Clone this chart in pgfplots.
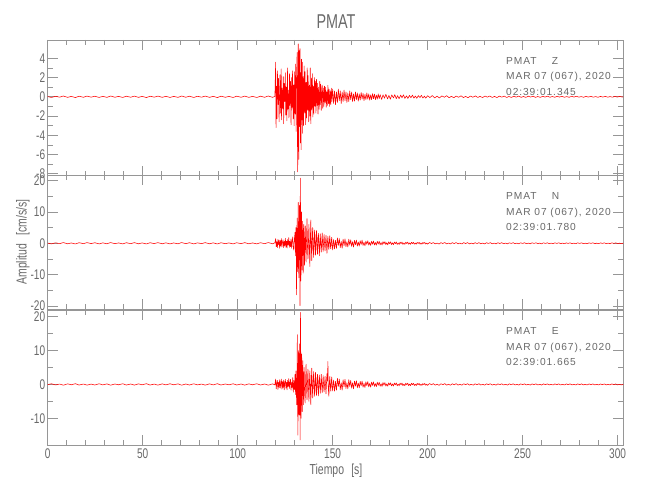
\documentclass[border=0pt]{standalone}
\usepackage{fontspec}
\setmainfont{Liberation Sans}
\newfontfamily\narrowfont[FakeStretch=0.72]{Liberation Sans}
\newfontfamily\annfont[LetterSpace=9]{Liberation Sans}
\usepackage{pgfplots}
\pgfplotsset{compat=1.18}
\definecolor{axgray}{RGB}{150,150,150}
\definecolor{txtgray}{RGB}{105,105,105}
\pgfplotsset{
 seis/.style={
  scale only axis, width=575.6pt, xmin=0, xmax=303,
  anchor=north west,
  axis line style={axgray, line width=0.6pt},
  every tick/.style={axgray, line width=0.6pt},
  major tick length=10pt, minor tick length=5pt,
  tick align=inside, xtick pos=both, ytick pos=both,
  xticklabel pos=lower, yticklabel pos=left,
  xtick={0,50,...,300}, minor x tick num=4, minor y tick num=1,
  ticklabel style={font=\narrowfont\fontsize{14}{14}\selectfont, text=txtgray},
  /pgf/number format/assume math mode=true,
  yticklabel style={xshift=1pt},
  clip=false,
 },
 trace/.style={red, line width=0.55pt, no markers, line join=round},
}
\begin{document}
\begin{tikzpicture}
\useasboundingbox (0pt,0pt) rectangle (650pt,-500pt);
% Panel Z
\begin{axis}[seis, at={(47.7pt,-40pt)}, height=135.7pt, ymin=-8.2, ymax=5.9,
  ytick={-8,-6,...,4}, xticklabels={}]
\addplot[trace] coordinates {
(0,0.02) (2,-0.07) (4.1,0.05) (6.3,-0.04) (8.2,0.08) (10.5,-0.06) (12.4,0.04) (14.6,-0.08) (16.5,0.06) (18.8,-0.05)
(20.7,0.07) (22.9,-0.04) (24.8,0.06) (27.1,-0.07) (29,0.05) (31.2,-0.06) (33.1,0.08) (35.4,-0.05) (37.3,0.04) (39.5,-0.07)
(41.4,0.06) (43.7,-0.05) (45.6,0.07) (47.8,-0.06) (49.7,0.04) (52,-0.08) (53.9,0.06) (56.1,-0.04) (58,0.07) (60.3,-0.06)
(62.2,0.05) (64.4,-0.07) (66.3,0.04) (68.6,-0.06) (70.5,0.08) (72.7,-0.05) (74.6,0.06) (76.9,-0.07) (78.8,0.05) (81,-0.04)
(82.9,0.07) (85.2,-0.06) (87.1,0.05) (89.3,-0.08) (91.2,0.06) (93.5,-0.05) (95.4,0.04) (97.6,-0.07) (99.5,0.06) (101.8,-0.05)
(103.7,0.07) (105.9,-0.06) (107.8,0.04) (110.1,-0.07) (112,0.06) (114.2,-0.05) (116.1,0.08) (118.4,-0.06) (119.6,0.05)
(120.0,3.6) (120.2,-3.2) (120.5,1.1) (120.7,-2.3) (121.0,2.7) (121.3,-0.8) (121.5,1.9) (121.8,-2.6) (122.1,0.6) (122.3,2.3)
(122.6,-1.7) (122.9,2.9) (123.1,-2.4) (123.4,0.9) (123.7,-1.2) (124.0,2.1) (124.2,-2.8) (124.5,1.4) (124.8,-0.5) (125.1,2.5)
(125.3,-1.9) (125.6,1.0) (125.9,-2.5) (126.2,3.0) (126.4,-1.3) (126.7,0.7) (127.0,-2.2) (127.3,2.4) (127.5,-0.9) (127.8,1.6)
(128.1,-2.9) (128.4,2.0) (128.6,-1.1) (128.9,2.7) (129.2,-2.3) (129.5,1.2) (129.7,-3.0) (130.0,2.6) (130.3,-1.8) (130.5,3.4)
(130.8,-3.6) (131.0,2.2) (131.3,4.6) (131.5,-5.0) (131.6,-7.8) (131.8,3.5) (131.9,5.5) (132.1,-4.2) (132.2,-6.5) (132.4,4.8)
(132.6,-3.1) (132.8,5.0) (133.0,-4.8) (133.2,2.5) (133.4,-5.5) (133.6,3.9) (133.8,-2.4) (134.0,3.6) (134.2,-3.8) (134.5,2.1)
(134.7,-3.0) (135.0,3.2) (135.3,-1.7) (135.5,2.6) (135.8,-2.9) (136.1,1.5) (136.3,-2.2) (136.6,3.0) (136.9,-1.4) (137.1,2.2)
(137.4,-2.6) (137.7,1.2) (138.0,-2.0) (138.2,3.0) (138.5,-2.8) (138.8,1.9) (139.0,-1.3) (139.3,2.4) (139.6,-2.1) (139.9,1.1)
(140.1,-1.8) (140.4,2.0) (140.7,-1.0) (141.0,1.6) (141.2,-1.7) (141.5,1.8) (141.8,-0.9) (142.1,1.4) (142.3,-1.8) (142.6,1.0)
(142.9,-1.3) (143.2,1.6) (143.4,-0.8) (143.7,1.3) (144.0,-1.4) (144.3,0.7) (144.5,1.2) (144.8,-1.2) (145.1,0.9) (145.4,-1.0)
(145.7,1.1) (146.0,-0.6) (146.3,1.0) (146.6,-1.1) (146.9,0.5) (147.2,-0.9) (147.5,1.2) (147.8,-0.7) (148.1,0.8) (148.4,-1.0)
(148.7,0.6) (149.0,-0.8) (149.3,0.9) (149.6,-0.5) (150.0,0.8)
(150.5,-0.7) (151,0.6) (151.5,-0.8) (152,0.5) (152.5,-0.6) (153,0.8) (153.5,-0.4) (154,0.6) (154.5,-0.7) (155,0.5)
(155.5,-0.5) (156,0.7) (156.5,-0.4) (157,0.5) (157.5,-0.6) (158,0.4) (158.5,-0.5) (159,0.6) (159.5,-0.3) (160,0.5)
(160.5,-0.5) (161,0.3) (161.5,-0.45) (162,0.5) (162.5,-0.3) (163,0.4) (163.5,-0.45) (164,0.3) (164.5,-0.35) (165,0.45)
(165.5,-0.25) (166,0.35) (166.5,-0.4) (167,0.25) (167.5,-0.3) (168,0.4) (168.5,-0.25) (169,0.3) (169.5,-0.35) (170,0.2)
(170.5,-0.3) (171,0.32) (171.5,-0.2) (172,0.28) (172.5,-0.3) (173,0.18) (173.5,-0.25) (174,0.3) (174.5,-0.2) (175,0.22)
(175.8,-0.28) (176.5,0.2) (177.3,-0.15) (178,0.26) (178.9,-0.22) (179.6,0.14) (180.4,-0.25) (181.1,0.2) (182,-0.12) (182.7,0.22)
(183.5,-0.2) (184.2,0.12) (185,-0.2) (185.8,0.18) (186.5,-0.1) (187.3,0.2) (188,-0.17) (188.9,0.1) (189.6,-0.18) (190.4,0.15)
(191.2,-0.1) (192,0.17) (192.8,-0.14) (193.5,0.08) (194.3,-0.16) (195.1,0.12) (196,-0.08) (196.7,0.15) (197.5,-0.13) (198.3,0.07)
(199,-0.14) (200,0.11) (201.2,-0.08) (202.5,0.13) (203.7,-0.11) (205,0.06) (206.2,-0.12) (207.5,0.09) (208.8,-0.05) (210,0.11)
(211.3,-0.1) (212.5,0.05) (213.8,-0.1) (215,0.08) (216.3,-0.05) (217.6,0.1) (218.8,-0.08) (220,0.04) (221.3,-0.09) (222.6,0.08)
(223.8,-0.05) (225.1,0.09) (226.4,-0.07) (227.6,0.04) (228.9,-0.08) (230.2,0.08) (231.4,-0.04) (232.7,0.08) (234,-0.07) (235.2,0.04)
(236.5,-0.08) (237.8,0.07) (239,-0.04) (240.3,0.07) (241.6,-0.07) (242.8,0.03) (244.1,-0.07) (245.4,0.06) (246.6,-0.04) (247.9,0.07)
(249.2,-0.06) (250.4,0.03) (251.7,-0.06) (253,0.06) (254.2,-0.03) (255.5,0.06) (256.8,-0.06) (258,0.03) (259.3,-0.06) (260.6,0.05)
(261.8,-0.03) (263.1,0.06) (264.4,-0.05) (265.6,0.03) (266.9,-0.05) (268.2,0.05) (269.4,-0.03) (270.7,0.05) (272,-0.05) (273.2,0.02)
(274.5,-0.05) (275.8,0.05) (277,-0.03) (278.3,0.05) (279.6,-0.04) (280.8,0.02) (282.1,-0.05) (283.4,0.04) (284.6,-0.03) (285.9,0.05)
(287.2,-0.04) (288.4,0.02) (289.7,-0.05) (291,0.04) (292.2,-0.03) (293.5,0.04) (294.8,-0.04) (296,0.02) (297.3,-0.04) (298.6,0.04)
(299.8,-0.03) (301.1,0.04) (302.4,-0.03) (303,0.0)
};
\end{axis}
% Panel N
\begin{axis}[seis, at={(47.7pt,-175pt)}, height=134pt, ymin=-20.9, ymax=21.7,
  ytick={-20,-10,...,20}, xticklabels={}]
\addplot[trace] coordinates {
(0,0.05) (2,-0.2) (4.1,0.15) (6.3,-0.12) (8.2,0.22) (10.5,-0.17) (12.4,0.1) (14.6,-0.22) (16.5,0.18) (18.8,-0.12)
(20.7,0.2) (22.9,-0.1) (24.8,0.17) (27.1,-0.2) (29,0.13) (31.2,-0.17) (33.1,0.22) (35.4,-0.13) (37.3,0.11) (39.5,-0.2)
(41.4,0.17) (43.7,-0.13) (45.6,0.2) (47.8,-0.17) (49.7,0.11) (52,-0.22) (53.9,0.17) (56.1,-0.11) (58,0.2) (60.3,-0.17)
(62.2,0.13) (64.4,-0.2) (66.3,0.11) (68.6,-0.17) (70.5,0.22) (72.7,-0.13) (74.6,0.17) (76.9,-0.2) (78.8,0.13) (81,-0.11)
(82.9,0.2) (85.2,-0.17) (87.1,0.13) (89.3,-0.22) (91.2,0.17) (93.5,-0.13) (95.4,0.11) (97.6,-0.2) (99.5,0.17) (101.8,-0.13)
(103.7,0.2) (105.9,-0.17) (107.8,0.11) (110.1,-0.2) (112,0.17) (114.2,-0.13) (116.1,0.22) (118.4,-0.17) (119.6,0.15)
(120.0,1.5) (120.3,-1.1) (120.6,0.5) (120.9,-1.4) (121.2,1.2) (121.5,-0.4) (121.8,1.0) (122.1,-1.6) (122.4,0.8) (122.7,-0.9)
(123.0,1.5) (123.3,-1.2) (123.6,0.4) (123.9,1.1) (124.2,-1.4) (124.5,0.6) (124.8,-0.8) (125.1,1.6) (125.4,-1.3) (125.7,0.7)
(126.0,-1.5) (126.3,1.2) (126.6,-0.5) (126.9,1.8) (127.2,-1.3) (127.5,0.6) (127.8,-1.1) (128.1,1.4) (128.4,-1.6) (128.7,0.8)
(129.0,2.0) (129.3,-1.5) (129.6,-2.2) (129.9,1.6) (130.2,3.5) (130.5,-4.0)
(130.7,5.0) (130.9,-6.5) (131.0,-16.4) (131.2,4.0) (131.3,8.0) (131.5,-5.0) (131.6,-9.0) (131.8,6.0) (131.9,13.0) (132.1,-7.0)
(132.2,-11.0) (132.4,5.0) (132.5,12.0) (132.7,-6.0) (132.8,-19.8) (132.9,8.0) (133.0,20.7) (133.2,-5.0) (133.3,-12.0) (133.5,4.0)
(133.6,10.0) (133.8,-3.5) (133.9,-8.5) (134.1,2.5) (134.2,7.0) (134.4,-3.0) (134.5,-9.5) (134.7,2.0) (134.8,6.0) (135.0,-2.5)
(135.2,-7.0) (135.4,3.0) (135.6,5.5) (135.8,-2.0) (136.0,-6.0) (136.3,2.8) (136.5,7.8) (136.8,-2.4) (137.0,-5.0) (137.3,1.5)
(137.5,6.0) (137.8,-3.0) (138.0,-7.4) (138.3,2.0) (138.5,7.4) (138.8,-1.8) (139.0,-5.5) (139.3,2.5) (139.5,5.0) (139.8,-2.0)
(140.0,-4.5) (140.3,1.5) (140.5,4.2) (140.8,-1.6) (141.0,-3.8) (141.3,2.0) (141.5,4.0) (141.8,-1.2) (142.0,-3.5) (142.3,1.8)
(142.5,3.2) (142.8,-1.5) (143.0,-4.0) (143.3,1.0) (143.5,3.0) (143.8,-1.4) (144.0,-2.8) (144.3,0.9) (144.5,3.3) (144.8,-1.1)
(145.0,-2.6) (145.3,1.2) (145.5,2.8) (145.8,-0.8) (146.0,-2.4) (146.3,1.0) (146.5,2.5) (146.8,-1.0) (147.0,-3.2) (147.3,0.8)
(147.5,2.2) (147.8,-0.9) (148.0,-2.0) (148.3,1.0) (148.5,2.4) (148.8,-0.7) (149.0,-1.8) (149.3,0.6) (149.5,1.9) (149.8,-0.8)
(150.0,-2.1) (150.5,1.2) (151,-1.8) (151.5,0.9) (152,-1.6) (152.5,1.7) (153,-0.7) (153.5,1.5) (154,-1.4) (154.5,0.6)
(155,-1.6) (155.5,1.3) (156,-0.8) (156.5,1.4) (157,-1.1) (157.5,0.5) (158,-1.2) (158.5,1.3) (159,-0.6) (159.5,1.1)
(160,-1.0) (160.5,0.5) (161,-1.2) (161.5,0.9) (162,-0.5) (162.5,1.0) (163,-0.9) (163.5,0.4) (164,-0.9) (164.5,0.8)
(165,-0.4) (165.5,1.0) (166,-0.7) (166.5,0.3) (167,-0.8) (167.5,0.7) (168,-0.35) (168.5,0.8) (169,-0.6) (169.5,0.3)
(170,-0.7) (170.5,0.65) (171,-0.3) (171.5,0.7) (172,-0.55) (172.5,0.25) (173,-0.6) (173.5,0.6) (174,-0.25) (174.5,0.6)
(175,-0.5) (175.5,0.2) (176,-0.55) (176.5,0.5) (177,-0.2) (177.5,0.5) (178,-0.45) (178.5,0.18) (179,-0.5) (179.5,0.45)
(180,-0.15) (180.5,0.45) (181,-0.42) (181.5,0.15) (182,-0.45) (182.5,0.4) (183,-0.15) (183.5,0.42) (184,-0.38) (184.5,0.12)
(185,-0.4) (185.5,0.37) (186,-0.12) (186.5,0.38) (187,-0.35) (187.5,0.1) (188,-0.36) (188.5,0.34) (189,-0.1) (189.5,0.35)
(190,-0.32) (190.5,0.1) (191,-0.33) (191.5,0.3) (192,-0.1) (192.5,0.32) (193,-0.3) (193.5,0.08) (194,-0.3) (194.5,0.28)
(195,-0.08) (195.5,0.3) (196,-0.27) (196.5,0.08) (197,-0.28) (197.5,0.26) (198,-0.07) (198.5,0.27) (199,-0.25) (199.5,0.07)
(200,-0.26) (201,0.25) (202,-0.1) (203,0.22) (204,-0.2) (205,0.07) (206,-0.24) (207,0.18) (208,-0.08) (209,0.23)
(210,-0.2) (211,0.06) (212,-0.22) (213,0.2) (214,-0.1) (215,0.21) (216,-0.17) (217,0.06) (218,-0.22) (219,0.19)
(220,-0.08) (221,0.2) (222,-0.18) (223,0.05) (224,-0.2) (225,0.18) (226,-0.09) (227,0.2) (228,-0.16) (229,0.05)
(230,-0.19) (231,0.17) (232,-0.07) (233,0.19) (234,-0.16) (235,0.05) (236,-0.18) (237,0.17) (238,-0.08) (239,0.18)
(240,-0.15) (241,0.05) (242,-0.18) (243,0.16) (244,-0.07) (245,0.17) (246,-0.15) (247,0.04) (248,-0.17) (249,0.16)
(250,-0.07) (251,0.17) (252,-0.14) (253,0.04) (254,-0.16) (255,0.15) (256,-0.07) (257,0.16) (258,-0.14) (259,0.04)
(260,-0.16) (261,0.15) (262,-0.06) (263,0.16) (264,-0.13) (265,0.04) (266,-0.15) (267,0.14) (268,-0.06) (269,0.15)
(270,-0.13) (271,0.04) (272,-0.15) (273,0.14) (274,-0.06) (275,0.15) (276,-0.13) (277,0.03) (278,-0.14) (279,0.14)
(280,-0.06) (281,0.14) (282,-0.12) (283,0.03) (284,-0.14) (285,0.13) (286,-0.05) (287,0.14) (288,-0.12) (289,0.03)
(290,-0.14) (291,0.13) (292,-0.05) (293,0.13) (294,-0.12) (295,0.03) (296,-0.13) (297,0.13) (298,-0.05) (299,0.13)
(300,-0.12) (301,0.03) (302,-0.13) (303,0.05)
};
\end{axis}
% Panel E
\begin{axis}[seis, at={(47.7pt,-310pt)}, height=135pt, ymin=-17.9, ymax=22,
  ytick={-10,0,10,20}]
\addplot[trace] coordinates {
(0,-0.05) (2,0.2) (4.1,-0.15) (6.3,0.12) (8.2,-0.22) (10.5,0.17) (12.4,-0.1) (14.6,0.22) (16.5,-0.18) (18.8,0.12)
(20.7,-0.2) (22.9,0.1) (24.8,-0.17) (27.1,0.2) (29,-0.13) (31.2,0.17) (33.1,-0.22) (35.4,0.13) (37.3,-0.11) (39.5,0.2)
(41.4,-0.17) (43.7,0.13) (45.6,-0.2) (47.8,0.17) (49.7,-0.11) (52,0.22) (53.9,-0.17) (56.1,0.11) (58,-0.2) (60.3,0.17)
(62.2,-0.13) (64.4,0.2) (66.3,-0.11) (68.6,0.17) (70.5,-0.22) (72.7,0.13) (74.6,-0.17) (76.9,0.2) (78.8,-0.13) (81,0.11)
(82.9,-0.2) (85.2,0.17) (87.1,-0.13) (89.3,0.22) (91.2,-0.17) (93.5,0.13) (95.4,-0.11) (97.6,0.2) (99.5,-0.17) (101.8,0.13)
(103.7,-0.2) (105.9,0.17) (107.8,-0.11) (110.1,0.2) (112,-0.17) (114.2,0.13) (116.1,-0.22) (118.4,0.17) (119.6,-0.15)
(120.0,1.6) (120.3,-1.3) (120.6,0.4) (120.9,1.2) (121.2,-1.5) (121.5,0.6) (121.8,-0.9) (122.1,1.4) (122.4,-1.1) (122.7,0.3)
(123.0,1.6) (123.3,-1.4) (123.6,0.8) (123.9,-1.0) (124.2,1.3) (124.5,-1.6) (124.8,0.5) (125.1,1.5) (125.4,-1.1) (125.7,0.6)
(126.0,-1.6) (126.3,1.2) (126.6,-0.6) (126.9,1.7) (127.2,-1.2) (127.5,0.5) (127.8,1.5) (128.1,-1.7) (128.4,0.7) (128.7,-1.0)
(129.0,2.0) (129.3,-2.3) (129.6,1.2) (129.9,-1.5) (130.2,3.0) (130.5,-3.0)
(130.7,4.0) (130.9,-2.5) (131.1,-6.0) (131.3,5.0) (131.4,14.7) (131.6,-6.0) (131.7,-15.0) (131.9,4.0) (132.0,10.0) (132.2,-4.0)
(132.3,-9.0) (132.5,5.0) (132.6,12.0) (132.8,-7.0) (132.9,-16.4) (133.0,9.0) (133.1,21.3) (133.3,-4.0) (133.4,-10.0) (133.6,4.0)
(133.7,9.0) (133.9,-3.0) (134.0,-8.0) (134.2,2.5) (134.3,7.0) (134.5,-2.0) (134.6,-6.0) (134.8,2.0) (135.0,5.0) (135.2,-2.0)
(135.5,-5.5) (135.8,2.0) (136.0,6.0) (136.3,-1.5) (136.5,-4.5) (136.8,1.8) (137.0,4.5) (137.3,-1.6) (137.5,-5.0) (137.8,1.2)
(138.0,4.0) (138.3,-2.0) (138.5,-6.0) (138.8,1.5) (139.0,4.8) (139.3,-1.2) (139.5,-4.0) (139.8,1.4) (140.0,3.8) (140.3,-1.0)
(140.5,-3.5) (140.8,1.2) (141.0,3.6) (141.3,-1.3) (141.5,-3.2) (141.8,0.9) (142.0,3.0) (142.3,-1.0) (142.5,-3.4) (142.8,1.2)
(143.0,2.8) (143.3,-0.8) (143.5,-2.6) (143.8,1.0) (144.0,3.0) (144.3,-0.9) (144.5,-2.4) (144.8,0.8) (145.0,2.6) (145.3,-1.0)
(145.5,-2.2) (145.8,0.7) (146.0,2.4) (146.3,-0.8) (146.5,-2.8) (146.8,1.0) (147.0,3.2) (147.3,1.0) (147.5,6.8) (147.7,-1.0)
(148.0,-3.5) (148.3,0.8) (148.5,2.4) (148.8,-0.6) (149.0,-2.0) (149.3,0.7) (149.5,2.2) (149.8,-0.8) (150.0,-1.9)
(150.5,1.3) (151,-2.0) (151.5,0.9) (152,-1.7) (152.5,1.8) (153,-0.6) (153.5,1.6) (154,-1.5) (154.5,0.5) (155,-1.7)
(155.5,1.4) (156,-0.7) (156.5,1.5) (157,-1.2) (157.5,0.5) (158,-1.3) (158.5,1.4) (159,-0.6) (159.5,1.2) (160,-1.1)
(160.5,0.5) (161,-1.3) (161.5,1.0) (162,-0.5) (162.5,1.1) (163,-1.0) (163.5,0.4) (164,-1.0) (164.5,0.9) (165,-0.4)
(165.5,1.0) (166,-0.8) (166.5,0.3) (167,-0.9) (167.5,0.8) (168,-0.35) (168.5,0.85) (169,-0.7) (169.5,0.3) (170,-0.8)
(170.5,0.7) (171,-0.3) (171.5,0.75) (172,-0.6) (172.5,0.25) (173,-0.65) (173.5,0.65) (174,-0.25) (174.5,0.65) (175,-0.55)
(175.5,0.2) (176,-0.6) (176.5,0.55) (177,-0.2) (177.5,0.55) (178,-0.5) (178.5,0.18) (179,-0.52) (179.5,0.48) (180,-0.15)
(180.5,0.48) (181,-0.45) (181.5,0.15) (182,-0.47) (182.5,0.42) (183,-0.15) (183.5,0.44) (184,-0.4) (184.5,0.12) (185,-0.42)
(185.5,0.39) (186,-0.12) (186.5,0.4) (187,-0.37) (187.5,0.1) (188,-0.38) (188.5,0.36) (189,-0.1) (189.5,0.37) (190,-0.34)
(190.5,0.1) (191,-0.35) (191.5,0.32) (192,-0.1) (192.5,0.34) (193,-0.32) (193.5,0.08) (194,-0.32) (194.5,0.3) (195,-0.08)
(195.5,0.32) (196,-0.29) (196.5,0.08) (197,-0.3) (197.5,0.28) (198,-0.07) (198.5,0.29) (199,-0.27) (199.5,0.07) (200,-0.28)
(201,0.27) (202,-0.1) (203,0.24) (204,-0.22) (205,0.07) (206,-0.25) (207,0.2) (208,-0.08) (209,0.24) (210,-0.21)
(211,0.06) (212,-0.23) (213,0.21) (214,-0.1) (215,0.22) (216,-0.18) (217,0.06) (218,-0.23) (219,0.2) (220,-0.08)
(221,0.21) (222,-0.19) (223,0.05) (224,-0.21) (225,0.19) (226,-0.09) (227,0.21) (228,-0.17) (229,0.05) (230,-0.2)
(231,0.18) (232,-0.07) (233,0.2) (234,-0.17) (235,0.05) (236,-0.19) (237,0.18) (238,-0.08) (239,0.19) (240,-0.16)
(241,0.05) (242,-0.19) (243,0.17) (244,-0.07) (245,0.18) (246,-0.16) (247,0.04) (248,-0.18) (249,0.17) (250,-0.07)
(251,0.18) (252,-0.15) (253,0.04) (254,-0.17) (255,0.16) (256,-0.07) (257,0.17) (258,-0.15) (259,0.04) (260,-0.17)
(261,0.16) (262,-0.06) (263,0.17) (264,-0.14) (265,0.04) (266,-0.16) (267,0.15) (268,-0.06) (269,0.16) (270,-0.14)
(271,0.04) (272,-0.16) (273,0.15) (274,-0.06) (275,0.16) (276,-0.14) (277,0.03) (278,-0.15) (279,0.15) (280,-0.06)
(281,0.15) (282,-0.13) (283,0.03) (284,-0.15) (285,0.14) (286,-0.05) (287,0.15) (288,-0.13) (289,0.03) (290,-0.15)
(291,0.14) (292,-0.05) (293,0.14) (294,-0.13) (295,0.03) (296,-0.14) (297,0.14) (298,-0.05) (299,0.14) (300,-0.13)
(301,0.03) (302,-0.14) (303,0.05)
};
\end{axis}
% Titles and labels
\node[text=txtgray, font=\narrowfont\fontsize{20}{20}\selectfont] at (336pt,-22pt) {PMAT};
\node[text=txtgray, font=\narrowfont\fontsize{14.5}{14.5}\selectfont, rotate=90] at (23pt,-242pt) {Amplitud\hspace{0.6em}[cm/s/s]};
\node[text=txtgray, font=\narrowfont\fontsize{14.5}{14.5}\selectfont] at (336pt,-471pt) {Tiempo\hspace{0.5em}[s]};
% Annotations
\begin{scope}[every node/.style={anchor=base west, inner sep=0pt, text=txtgray, font=\annfont\fontsize{10.2}{10.2}\selectfont}]
\node at (506pt,-64.5pt) {PMAT\hspace{1.5em}Z};
\node at (506pt,-80pt) {MAR 07 (067), 2020};
\node at (506pt,-95.5pt) {02:39:01.345};
\node at (506pt,-199.5pt) {PMAT\hspace{1.5em}N};
\node at (506pt,-215pt) {MAR 07 (067), 2020};
\node at (506pt,-230.5pt) {02:39:01.780};
\node at (506pt,-334.5pt) {PMAT\hspace{1.5em}E};
\node at (506pt,-350pt) {MAR 07 (067), 2020};
\node at (506pt,-365.5pt) {02:39:01.665};
\end{scope}
\end{tikzpicture}
\end{document}
